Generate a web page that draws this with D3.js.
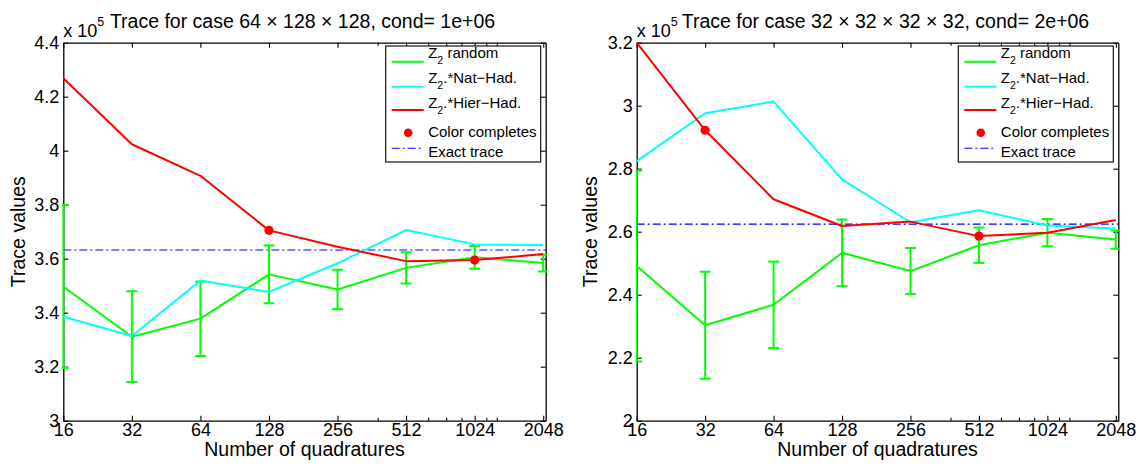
<!DOCTYPE html>
<html>
<head>
<meta charset="utf-8">
<script src="https://cdn.jsdelivr.net/npm/d3@7"></script>
<style>
  html, body { margin: 0; padding: 0; background: #fff; }
  svg { display: block; font-family: "Liberation Sans", Arial, Helvetica, sans-serif; }
</style>
</head>
<body>
<svg id="fig" width="1141" height="466"></svg>
<script>
// Number of quadratures (x axis, log2 spaced)
const quadratures = [16, 32, 64, 128, 256, 512, 1024, 2048];
const minorTicks = [384, 640, 768, 896, 1152, 1280];

// Trace values in units of 10^5
const exponent = 5;

// Case 64 x 128 x 128
const titleA = "Trace for case 64 \u00d7 128 \u00d7 128, cond= 1e+06";
const yTicksA = [3, 3.2, 3.4, 3.6, 3.8, 4, 4.2, 4.4];
const z2RandomA = [3.497, 3.311, 3.378, 3.542, 3.486, 3.566, 3.605, 3.584];
const z2RandomErrA = [0.302, 0.168, 0.138, 0.107, 0.073, 0.058, 0.042, 0.031];
const natHadA = [3.385, 3.314, 3.519, 3.477, 3.583, 3.706, 3.653, 3.651];
const hierHadA = [4.268, 4.024, 3.907, 3.705, 3.644, 3.591, 3.595, 3.617];
const colorCompleteA = [128, 1024];
const exactA = 3.632;

// Case 32 x 32 x 32 x 32
const titleB = "Trace for case 32 \u00d7 32 \u00d7 32 \u00d7 32, cond= 2e+06";
const yTicksB = [2, 2.2, 2.4, 2.6, 2.8, 3, 3.2];
const z2RandomB = [2.491, 2.303, 2.368, 2.533, 2.475, 2.557, 2.597, 2.575];
const z2RandomErrB = [0.303, 0.170, 0.137, 0.106, 0.073, 0.056, 0.043, 0.029];
const natHadB = [2.824, 2.976, 3.013, 2.766, 2.630, 2.668, 2.620, 2.610];
const hierHadB = [3.200, 2.922, 2.703, 2.618, 2.632, 2.586, 2.597, 2.637];
const colorCompleteB = [32, 512];
const exactB = 2.624;

const xLabel = "Number of quadratures";
const yLabel = "Trace values";

const GREEN = "#00ff00", CYAN = "#00ffff", RED = "#ff0000", BLUE = "#0000ff";

const svg = d3.select("#fig");

function drawPanel(p) {
  const g = svg.append("g");
  const x = d3.scaleLog().base(2).domain([16, 2100]).range([p.left, p.right]);
  const y = d3.scaleLinear().domain([p.yTicks[0], p.yTicks[p.yTicks.length - 1]]).range([p.bottom, p.top]);

  const fmt = v => String(+v.toFixed(1));
  const tickFont = 18;

  // Box with inward ticks on all four sides
  g.append("g").attr("transform", `translate(0,${p.bottom})`)
    .call(d3.axisBottom(x).tickValues(quadratures).tickFormat(d => String(d))
      .tickSizeInner(-5).tickSizeOuter(0).tickPadding(3));
  g.append("g").attr("transform", `translate(0,${p.top})`)
    .call(d3.axisTop(x).tickValues(quadratures).tickFormat("")
      .tickSizeInner(-5).tickSizeOuter(0));
  g.append("g").attr("transform", `translate(0,${p.bottom})`)
    .call(d3.axisBottom(x).tickValues(minorTicks).tickFormat("").tickSizeInner(-3).tickSizeOuter(0))
    .select(".domain").remove();
  g.append("g").attr("transform", `translate(0,${p.top})`)
    .call(d3.axisTop(x).tickValues(minorTicks).tickFormat("").tickSizeInner(-3).tickSizeOuter(0))
    .select(".domain").remove();
  g.append("g").attr("transform", `translate(${p.left},0)`)
    .call(d3.axisLeft(y).tickValues(p.yTicks).tickFormat(fmt)
      .tickSizeInner(-5).tickSizeOuter(0).tickPadding(4));
  g.append("g").attr("transform", `translate(${p.right},0)`)
    .call(d3.axisRight(y).tickValues(p.yTicks).tickFormat("")
      .tickSizeInner(-5).tickSizeOuter(0));

  g.selectAll(".domain").attr("stroke", "#000").attr("stroke-width", 1.3);
  g.selectAll(".tick line").attr("stroke", "#000").attr("stroke-width", 1.1);
  g.selectAll(".tick text").attr("font-size", tickFont).attr("fill", "#000")
    .attr("font-family", "Liberation Sans, Arial, sans-serif");

  // Data layer, clipped to the axes box
  const clipId = "clip-" + p.id;
  svg.append("clipPath").attr("id", clipId).append("rect")
    .attr("x", p.left - 1.2).attr("y", p.top - 1.2)
    .attr("width", p.right - p.left + 2.4).attr("height", p.bottom - p.top + 2.4);
  const data = g.append("g").attr("clip-path", `url(#${clipId})`);

  const line = d3.line().x((d, i) => x(quadratures[i])).y(d => y(d));

  // Exact trace
  data.append("line")
    .attr("x1", x.range()[0]).attr("x2", x.range()[1])
    .attr("y1", y(p.exact)).attr("y2", y(p.exact))
    .attr("stroke", BLUE).attr("stroke-width", 1.1).attr("stroke-dasharray", "8,3,2,3");

  // Z2 random with error bars
  const capHalf = 5.5;
  const eb = data.append("g").attr("stroke", GREEN).attr("stroke-width", 2).attr("fill", "none");
  p.z2.forEach((m, i) => {
    const xi = x(quadratures[i]);
    const lo = y(m - p.z2Err[i]), hi = y(m + p.z2Err[i]);
    eb.append("line").attr("x1", xi).attr("x2", xi).attr("y1", lo).attr("y2", hi);
    eb.append("line").attr("x1", xi - capHalf).attr("x2", xi + capHalf).attr("y1", lo).attr("y2", lo);
    eb.append("line").attr("x1", xi - capHalf).attr("x2", xi + capHalf).attr("y1", hi).attr("y2", hi);
  });
  data.append("path").attr("d", line(p.z2)).attr("fill", "none")
    .attr("stroke", GREEN).attr("stroke-width", 2).attr("stroke-linejoin", "round");

  data.append("path").attr("d", line(p.nat)).attr("fill", "none")
    .attr("stroke", CYAN).attr("stroke-width", 2).attr("stroke-linejoin", "round");
  data.append("path").attr("d", line(p.hier)).attr("fill", "none")
    .attr("stroke", RED).attr("stroke-width", 2).attr("stroke-linejoin", "round");

  // Color completes markers on the hierarchical curve
  p.complete.forEach(q => {
    const i = quadratures.indexOf(q);
    data.append("circle").attr("cx", x(q)).attr("cy", y(p.hier[i])).attr("r", 4.6).attr("fill", RED);
  });

  // Axis labels
  g.append("text").attr("x", (p.left + p.right) / 2).attr("y", 456)
    .attr("text-anchor", "middle").attr("font-size", 19.5).text(xLabel);
  g.append("text")
    .attr("transform", `translate(${p.left - p.yLabelGap},${(p.top + p.bottom) / 2}) rotate(-90)`)
    .attr("text-anchor", "middle").attr("font-size", 19.5).text(yLabel);

  // Exponent marker and title
  const ex = g.append("text").attr("x", p.left).attr("y", 37).attr("font-size", 18);
  ex.append("tspan").text("x 10");
  ex.append("tspan").attr("font-size", 12.5).attr("dy", -11).text(String(exponent));
  g.append("text").attr("x", (p.left + p.right) / 2 + p.titleShift).attr("y", 28)
    .attr("text-anchor", "middle").attr("font-size", 19.5).text(p.title);

  // Legend
  const lw = 155, lh = 116;
  const lg = g.append("g").attr("transform", `translate(${p.right - 5 - lw},46)`);
  lg.append("rect").attr("width", lw).attr("height", lh)
    .attr("fill", "#fff").attr("stroke", "#000").attr("stroke-width", 1.1);
  const entries = [
    { kind: "line", color: GREEN, ly: 15.7, ty: 12.3, main: "Z", sub: "2", rest: " random" },
    { kind: "line", color: CYAN, ly: 40.7, ty: 37.3, main: "Z", sub: "2", rest: ".*Nat\u2212Had." },
    { kind: "line", color: RED, ly: 64, ty: 62.3, main: "Z", sub: "2", rest: ".*Hier\u2212Had." },
    { kind: "dot", color: RED, ly: 86.7, ty: 90.7, main: "Color completes" },
    { kind: "dash", color: BLUE, ly: 102.3, ty: 110.7, main: "Exact trace" }
  ];
  entries.forEach(e => {
    if (e.kind === "line") {
      lg.append("line").attr("x1", 6).attr("x2", 38).attr("y1", e.ly).attr("y2", e.ly)
        .attr("stroke", e.color).attr("stroke-width", 2);
    } else if (e.kind === "dot") {
      lg.append("circle").attr("cx", 22.5).attr("cy", e.ly).attr("r", 4.3).attr("fill", e.color);
    } else {
      lg.append("line").attr("x1", 6).attr("x2", 38).attr("y1", e.ly).attr("y2", e.ly)
        .attr("stroke", e.color).attr("stroke-width", 1.1).attr("stroke-dasharray", "8,3,2,3");
    }
    const t = lg.append("text").attr("x", 42.5).attr("y", e.ty).attr("font-size", 15);
    t.append("tspan").text(e.main);
    if (e.sub) {
      t.append("tspan").attr("font-size", 10.5).attr("dy", 6).text(e.sub);
      t.append("tspan").attr("dy", -6).text(e.rest);
    }
  });
}

drawPanel({
  id: "a", left: 63.3, right: 545.7, top: 42.7, bottom: 420.7,
  yTicks: yTicksA, z2: z2RandomA, z2Err: z2RandomErrA, nat: natHadA, hier: hierHadA,
  complete: colorCompleteA, exact: exactA, title: titleA, titleShift: -2, yLabelGap: 38
});
drawPanel({
  id: "b", left: 636.7, right: 1118.3, top: 42.7, bottom: 420.7,
  yTicks: yTicksB, z2: z2RandomB, z2Err: z2RandomErrB, nat: natHadB, hier: hierHadB,
  complete: colorCompleteB, exact: exactB, title: titleB, titleShift: 8, yLabelGap: 40
});
</script>
</body>
</html>
